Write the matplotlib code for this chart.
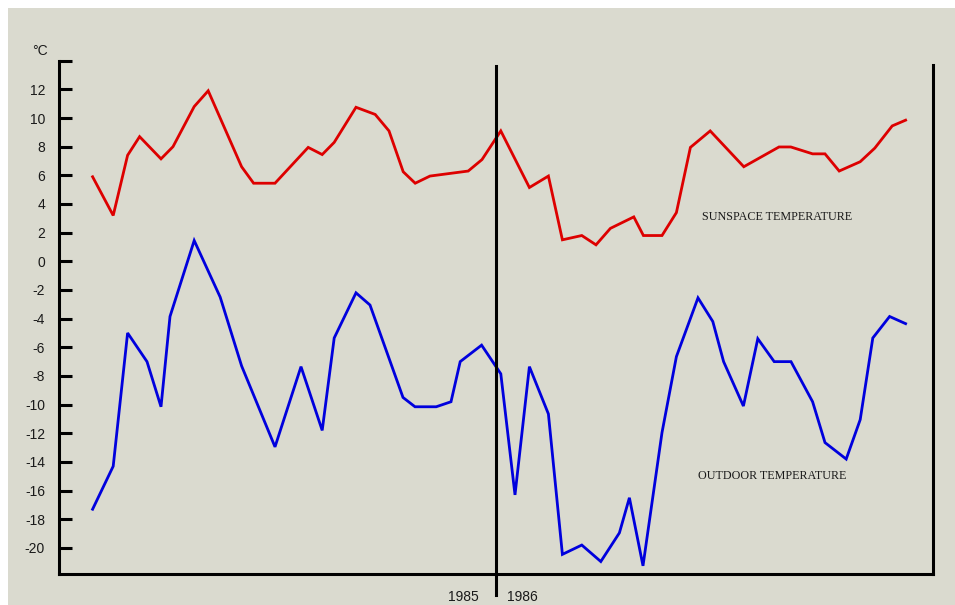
import matplotlib
matplotlib.use("Agg")
import matplotlib.pyplot as plt
from matplotlib.patches import Rectangle

# x: days relative to 1 Jan 1986
sun_days = [-201.7, -191.4, -184.2, -178.2, -167.5, -161.5, -150.9, -143.9, -127.2, -121.2,
            -110.5, -93.9, -86.9, -80.9, -70.0, -60.4, -53.5, -46.4, -40.4, -33.0,
            -13.9, -7.0, 2.4, 16.7, 26.2, 33.2, 42.9, 50.0, 57.2, 68.9,
            73.7, 83.0, 90.2, 97.2, 107.1, 123.9, 141.5, 147.4, 158.3, 164.5,
            171.6, 182.1, 189.4, 198.1, 204.8]
sun_temp = [5.9, 3.2, 7.4, 8.7, 7.15, 8.0, 10.8, 11.9, 6.6, 5.45,
            5.45, 7.95, 7.45, 8.3, 10.75, 10.25, 9.1, 6.25, 5.45, 5.95,
            6.3, 7.1, 9.1, 5.15, 5.95, 1.5, 1.8, 1.15, 2.3, 3.1,
            1.8, 1.8, 3.4, 7.95, 9.1, 6.6, 7.98, 7.98, 7.5, 7.5,
            6.3, 6.95, 7.9, 9.45, 9.85]

out_days = [-201.7, -191.4, -184.2, -174.5, -167.5, -163.0, -150.9, -137.9, -127.2, -110.5,
            -97.5, -86.9, -80.9, -70.0, -63.0, -46.5, -40.5, -29.9, -22.5, -17.9,
            -7.2, 2.4, 9.5, 16.7, 26.2, 33.2, 42.9, 52.4, 61.7, 66.7,
            73.5, 83.0, 90.2, 101.0, 108.4, 113.8, 123.7, 130.9, 139.1, 147.5,
            158.3, 164.5, 175.1, 182.1, 188.4, 196.8, 204.8]
out_temp = [-17.3, -14.3, -5.0, -7.0, -10.15, -3.85, 1.45, -2.5, -7.3, -12.95,
            -7.35, -11.8, -5.35, -2.2, -3.05, -9.5, -10.15, -10.15, -9.8, -7.0,
            -5.85, -7.85, -16.3, -7.35, -10.65, -20.45, -19.8, -20.95, -18.95, -16.5,
            -21.25, -11.95, -6.65, -2.55, -4.2, -7.0, -10.1, -5.4, -7.0, -7.0,
            -9.8, -12.65, -13.8, -11.05, -5.35, -3.85, -4.35]

y_ticks = list(range(-20, 15, 2))
y_labels = [str(t) if t <= 12 else "" for t in y_ticks]
year_labels = ["1985", "1986"]
series_labels = ["SUNSPACE TEMPERATURE", "OUTDOOR TEMPERATURE"]

W, H = 955, 605
fig = plt.figure(figsize=(W / 100, H / 100), dpi=100, facecolor="white")
bg = "#dadacf"
fig.patches.append(Rectangle((8 / W, 0), 1 - 8 / W, 1 - 8 / H, transform=fig.transFigure,
                             facecolor=bg, edgecolor="none", zorder=-10))

left, right, bottom, top = 59, 933, 574, 60.7
ax = fig.add_axes([left / W, 1 - bottom / H, (right - left) / W, (bottom - top) / H])
ax.set_facecolor("none")
ax.set_xlim(-218.5, 218.5)
ax.set_ylim(-21.82, 14)

ax.plot(sun_days, sun_temp, color="#dd0000", lw=2.0, solid_joinstyle="miter", zorder=3)
ax.plot(out_days, out_temp, color="#0000dd", lw=2.0, solid_joinstyle="miter", zorder=3)

ax.spines["top"].set_visible(False)
for s in ["left", "bottom", "right"]:
    ax.spines[s].set_linewidth(2.2)
    ax.spines[s].set_color("black")
ax.spines["right"].set_bounds(-21.82, 13.7)

ax.set_yticks(y_ticks)
ax.set_yticklabels(y_labels, fontfamily="Liberation Sans", fontsize=10, color="#1a1a1a")
ax.tick_params(axis="y", direction="in", length=9.5, width=2.2, pad=10)
ax.set_xticks([])

# year divider
ax.plot([0, 0], [13.6, -23.3], color="black", lw=2.2, clip_on=False, zorder=4)
ax.text(-8.8, -23.4, year_labels[0], ha="right", va="center", fontsize=10,
        fontfamily="Liberation Sans", color="#1a1a1a", clip_on=False)
ax.text(5.5, -23.4, year_labels[1], ha="left", va="center", fontsize=10,
        fontfamily="Liberation Sans", color="#1a1a1a", clip_on=False)

ax.text(103, 3.08, series_labels[0], ha="left", va="center", fontsize=8.7,
        fontfamily="Liberation Serif", color="#1a1a1a")
ax.text(100.8, -15.0, series_labels[1], ha="left", va="center", fontsize=8.7,
        fontfamily="Liberation Serif", color="#1a1a1a")

fig.text(40 / W, 1 - 51 / H, "°C", ha="center", va="center", fontsize=10,
         fontfamily="Liberation Sans", color="#1a1a1a")

fig.savefig("out.png", dpi=100, facecolor="white")
